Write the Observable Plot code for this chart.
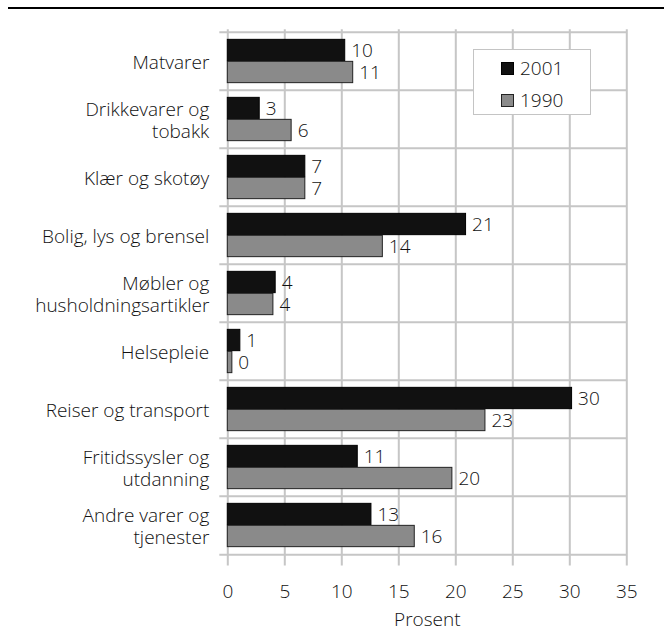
<!DOCTYPE html>
<html>
<head>
<meta charset="utf-8">
<script src="https://cdn.jsdelivr.net/npm/d3@7"></script>
<script src="https://cdn.jsdelivr.net/npm/@observablehq/plot@0.6"></script>
<style>
  body { margin: 0; background: #fff; }
  #wrap { position: relative; width: 664px; height: 632px; font-family: "Open Sans", sans-serif; font-weight: 300; color: #111; }
  #chart { position: absolute; left: 0; top: 0; }
  #rule { position: absolute; left: 8px; right: 0; top: 6.5px; height: 2px; background: #000; }
  #legend { position: absolute; left: 473px; top: 49px; width: 118px; height: 66px; border: 1.5px solid #c4c4c4; background: #fff; box-sizing: border-box; }
  .sw { position: absolute; width: 13px; height: 13px; box-sizing: border-box; }
  .lt { position: absolute; font-size: 19px; line-height: 20px; }
</style>
</head>
<body>
<div id="wrap">
  <div id="chart"></div>
  <div id="rule"></div>
  <div id="legend"></div>
</div>
<script>
const categories = [
  "Matvarer",
  "Drikkevarer og\ntobakk",
  "Klær og skotøy",
  "Bolig, lys og brensel",
  "Møbler og\nhusholdningsartikler",
  "Helsepleie",
  "Reiser og transport",
  "Fritidssysler og\nutdanning",
  "Andre varer og\ntjenester"
];
const values2001 = [10.3, 2.8, 6.8, 20.9, 4.2, 1.1, 30.2, 11.4, 12.6];
const values1990 = [11.0, 5.6, 6.8, 13.6, 4.0, 0.4, 22.6, 19.7, 16.4];
const series = ["2001", "1990"];
const seriesColors = ["#111111", "#8a8a8a"];
const xTicks = [0, 5, 10, 15, 20, 25, 30, 35];

const rows2001 = categories.map((c, i) => ({cat: c, v: values2001[i]}));
const rows1990 = categories.map((c, i) => ({cat: c, v: values1990[i]}));

const W = 664, H = 632, mt = 29.3, mb = 74.5, ml = 227.3, mr = 37.7;
const bw = (H - mt - mb) / categories.length;
const barH = 22;
const gap = (bw - 2 * barH) / 2;
const grid = "#c6c6c6";
const ink = "#111";

const chart = Plot.plot({
  width: W, height: H,
  marginLeft: ml, marginRight: mr, marginTop: mt, marginBottom: mb,
  style: { fontFamily: '"Open Sans", sans-serif', fontWeight: 300, fontSize: "19px", color: ink, background: "transparent" },
  x: { domain: [0, 35], ticks: xTicks },
  y: { domain: categories, padding: 0, axis: null },
  marks: [
    Plot.ruleX(xTicks, { stroke: grid, strokeWidth: 2, insetBottom: -8 }),
    Plot.ruleY(categories, { y: d => d, dy: -bw / 2, stroke: grid, strokeWidth: 2, insetLeft: -8 }),
    Plot.ruleY([categories[categories.length - 1]], { y: d => d, dy: bw / 2, stroke: grid, strokeWidth: 2, insetLeft: -8 }),
    Plot.barX(rows2001, { x: "v", y: "cat", insetTop: gap, insetBottom: bw - gap - barH, fill: seriesColors[0], stroke: "#000", strokeWidth: 1 }),
    Plot.barX(rows1990, { x: "v", y: "cat", insetTop: gap + barH, insetBottom: gap, fill: seriesColors[1], stroke: "#222", strokeWidth: 1 }),
    Plot.text(rows2001, { x: "v", y: "cat", dy: -barH / 2, dx: 6, textAnchor: "start", text: d => String(Math.round(d.v)), fill: ink }),
    Plot.text(rows1990, { x: "v", y: "cat", dy: barH / 2, dx: 6, textAnchor: "start", text: d => String(Math.round(d.v)), fill: ink }),
    Plot.text(categories, { y: d => d, text: d => d, frameAnchor: "left", textAnchor: "end", dx: -18.5, lineHeight: 1.17, fill: ink }),
    Plot.axisX({ ticks: xTicks, tickSize: 0, tickPadding: 26.5, label: "Prosent", labelAnchor: "center", labelArrow: "none", labelOffset: 68, fill: ink })
  ]
});
document.getElementById("chart").appendChild(chart);

const legend = document.getElementById("legend");
series.forEach((s, i) => {
  const sw = document.createElement("div");
  sw.className = "sw";
  sw.style.left = "27px";
  sw.style.top = (12 + i * 32) + "px";
  sw.style.background = seriesColors[i];
  sw.style.border = "1px solid " + (i === 0 ? "#000" : "#222");
  legend.appendChild(sw);
  const t = document.createElement("div");
  t.className = "lt";
  t.style.left = "46px";
  t.style.top = (8 + i * 32) + "px";
  t.textContent = s;
  legend.appendChild(t);
});
</script>
</body>
</html>
